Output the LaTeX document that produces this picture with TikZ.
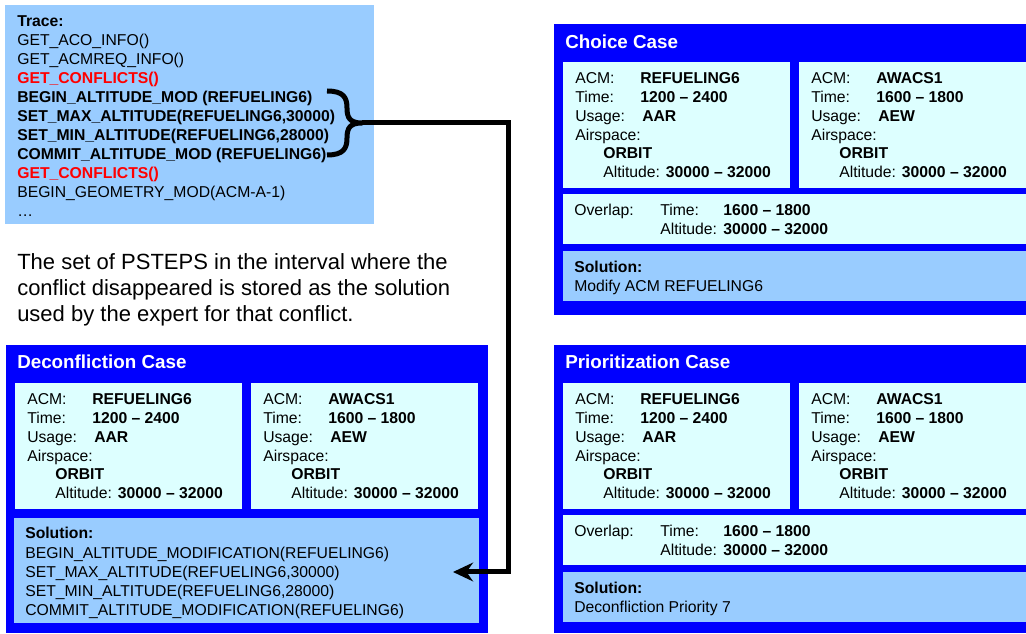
\documentclass[tikz,border=0pt]{standalone}
\usepackage{fontspec}
\setmainfont{Liberation Sans}
\usetikzlibrary{arrows.meta}
\definecolor{cblue}{HTML}{0000FF}
\definecolor{lblue}{HTML}{99CCFF}
\definecolor{lcyan}{HTML}{DDFFFF}
\definecolor{tred}{HTML}{FF0000}
\tikzset{
  rbox/.style n args={3}{fill=#1, draw=none, anchor=north west, inner sep=0pt,
    minimum width=#2*0.75pt, minimum height=#3*0.75pt},
  txt/.style={anchor=base west, inner sep=0pt, font=\fontsize{11.8}{14}\selectfont},
  btxt/.style={txt, font=\fontsize{11.8}{14}\selectfont\bfseries},
  rtxt/.style={btxt, text=tred},
  ttl/.style={anchor=base west, inner sep=0pt, text=white, font=\fontsize{14.1}{17}\selectfont\bfseries},
  para/.style={anchor=base west, inner sep=0pt, font=\fontsize{16.5}{19.5}\selectfont},
  bracestyle/.style={line width=3.75pt, line join=round},
  conn/.style={line width=3.75pt, -{Stealth[length=15pt,width=14pt]}},
}
% #1 prefix, #2 X, #3 Y, #4 W, #5 name, #6 time, #7 usage
\newcommand\acmbox[7]{%
  \node[rbox={lcyan}{#4}{126}] (#1) at (#2,#3) {};
  \node[txt]  (#1-l1) at ({#2+12},{#3+21.5}) {ACM:};
  \node[btxt] (#1-v1) at ({#2+77},{#3+21.5}) {#5};
  \node[txt]  (#1-l2) at ({#2+12},{#3+40.5}) {Time:};
  \node[btxt] (#1-v2) at ({#2+77},{#3+40.5}) {#6};
  \node[txt]  (#1-l3) at ({#2+12},{#3+59.5}) {Usage:};
  \node[btxt] (#1-v3) at ({#2+79},{#3+59.5}) {#7};
  \node[txt]  (#1-l4) at ({#2+12},{#3+78.5}) {Airspace:};
  \node[btxt] (#1-v4) at ({#2+40},{#3+96.5}) {ORBIT};
  \node[txt]  (#1-v5) at ({#2+40},{#3+115.5}) {Altitude: \textbf{30000 \textendash{} 32000}};
}
% #1 prefix, #2 X, #3 Y, #4 W
\newcommand\overlapbox[4]{%
  \node[rbox={lcyan}{#4}{50}] (#1) at (#2,#3) {};
  \node[txt]  (#1-l1) at ({#2+11},{#3+21.5}) {Overlap:};
  \node[txt]  (#1-l2) at ({#2+97},{#3+21.5}) {Time:};
  \node[btxt] (#1-v2) at ({#2+160},{#3+21.5}) {1600 \textendash{} 1800};
  \node[txt]  (#1-l3) at ({#2+97},{#3+40.5}) {Altitude:};
  \node[btxt] (#1-v3) at ({#2+160},{#3+40.5}) {30000 \textendash{} 32000};
}
% #1 prefix, #2 X, #3 Y, #4 W, #5 text
\newcommand\solbox[5]{%
  \node[rbox={lblue}{#4}{50}] (#1) at (#2,#3) {};
  \node[btxt] (#1-l1) at ({#2+11},{#3+21.5}) {Solution:};
  \node[txt]  (#1-l2) at ({#2+11},{#3+40.5}) {#5};
}
\begin{document}
\begin{tikzpicture}[x=0.75pt,y=-0.75pt]
\useasboundingbox (0,0) rectangle (1026,634);
\clip (0,0) rectangle (1026,634);
\fill[white] (0,0) rectangle (1026,634);

% Trace box
\node[rbox={lblue}{369}{219}] (trace) at (5,5) {};
\node[btxt] (t0) at (17,26.5) {Trace:};
\node[txt]  (t1) at (17,45.5) {GET\_ACO\_INFO()};
\node[txt]  (t2) at (17,64.5) {GET\_ACMREQ\_INFO()};
\node[rtxt] (t3) at (17,83.5) {GET\_CONFLICTS()};
\node[btxt] (t4) at (17,102.5) {BEGIN\_ALTITUDE\_MOD (REFUELING6)};
\node[btxt] (t5) at (17,121.5) {SET\_MAX\_ALTITUDE(REFUELING6,30000)};
\node[btxt] (t6) at (17,140.5) {SET\_MIN\_ALTITUDE(REFUELING6,28000)};
\node[btxt] (t7) at (17,159.5) {COMMIT\_ALTITUDE\_MOD (REFUELING6)};
\node[rtxt] (t8) at (17,178.5) {GET\_CONFLICTS()};
\node[txt]  (t9) at (17,197.5) {BEGIN\_GEOMETRY\_MOD(ACM-A-1)};
\node[txt]  (t10) at (17,216.5) {…};

% Paragraph
\node[para] (p1) at (17,270) {The set of PSTEPS in the interval where the};
\node[para] (p2) at (17,296) {conflict disappeared is stored as the solution};
\node[para] (p3) at (17,322) {used by the expert for that conflict.};

% Deconfliction case
\node[rbox={cblue}{482}{288}] (dec) at (6,345) {};
\node[ttl] (dec-t) at (17,368.7) {Deconfliction Case};
\acmbox{dec-a}{15}{383}{227}{REFUELING6}{1200 \textendash{} 2400}{AAR}
\acmbox{dec-b}{251}{383}{227}{AWACS1}{1600 \textendash{} 1800}{AEW}
\node[rbox={lblue}{465}{105}] (dec-s) at (14,518) {};
\node[btxt] (dec-s0) at (25,538.5) {Solution:};
\node[txt]  (dec-s1) at (25,558.5) {BEGIN\_ALTITUDE\_MODIFICATION(REFUELING6)};
\node[txt]  (dec-s2) at (25,577.5) {SET\_MAX\_ALTITUDE(REFUELING6,30000)};
\node[txt]  (dec-s3) at (25,596.5) {SET\_MIN\_ALTITUDE(REFUELING6,28000)};
\node[txt]  (dec-s4) at (25,615.5) {COMMIT\_ALTITUDE\_MODIFICATION(REFUELING6)};

% Choice case
\node[rbox={cblue}{490}{291}] (cho) at (554,24) {};
\node[ttl] (cho-t) at (565,48.7) {Choice Case};
\acmbox{cho-a}{563}{62}{227}{REFUELING6}{1200 \textendash{} 2400}{AAR}
\acmbox{cho-b}{799}{62}{240}{AWACS1}{1600 \textendash{} 1800}{AEW}
\overlapbox{cho-o}{563}{194}{476}
\solbox{cho-s}{563}{251}{476}{Modify ACM REFUELING6}

% Prioritization case
\node[rbox={cblue}{490}{288}] (pri) at (554,345) {};
\node[ttl] (pri-t) at (565,368.7) {Prioritization Case};
\acmbox{pri-a}{563}{383}{227}{REFUELING6}{1200 \textendash{} 2400}{AAR}
\acmbox{pri-b}{799}{383}{240}{AWACS1}{1600 \textendash{} 1800}{AEW}
\overlapbox{pri-o}{563}{515}{476}
\solbox{pri-s}{563}{572}{476}{Deconfliction Priority 7}

% Brace and connector
\coordinate (bt) at (362,123);
\coordinate (bend) at (508,572);
\coordinate (aend) at (453,572);
\draw[bracestyle] (327,91) .. controls (344,91) and (347,98) .. (347,108)
  .. controls (347,118) and (350,123) .. (bt)
  .. controls (350,123) and (347,128) .. (347,138)
  .. controls (347,148) and (344,155) .. (327,155);
\draw[conn] (bt) -| (bend) -- (aend);
\end{tikzpicture}
\end{document}
